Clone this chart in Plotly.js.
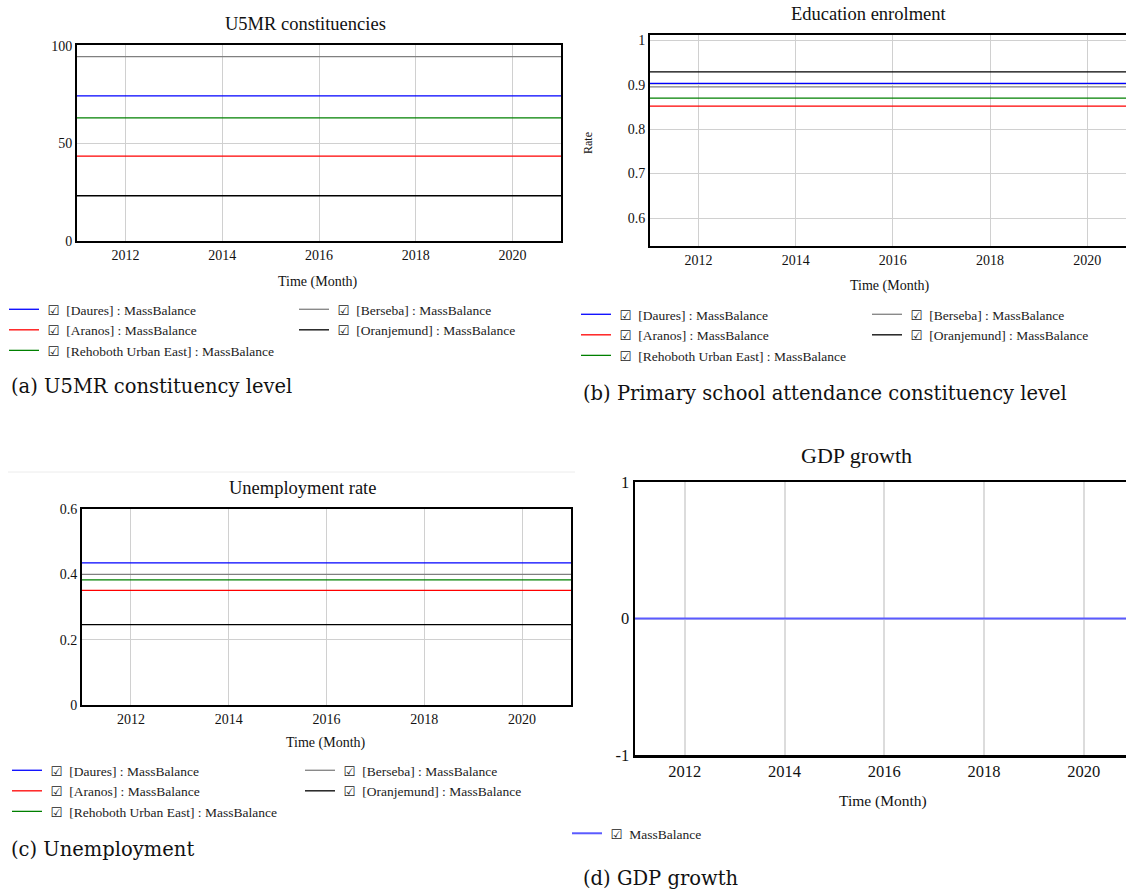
<!DOCTYPE html>
<html><head><meta charset="utf-8">
<script src="https://cdn.plot.ly/plotly-3.0.1.min.js"></script>
<style>html,body{margin:0;padding:0;background:#fff;overflow:hidden}#chart{width:1126px;height:890px}</style>
</head><body><div id="chart"></div>
<script>
const W = 1126, H = 890;
// ---- data ----
const timeYears = [2011, 2021];
const constituencies = ['Daures', 'Aranos', 'Rehoboth Urban East', 'Berseba', 'Oranjemund'];
const seriesColors = ['#0000ff', '#ff0000', '#008000', '#808080', '#000000'];
const u5mrValues = [74.4, 43.5, 63.1, 94.5, 23.2];
const enrolmentValues = [0.903, 0.852, 0.870, 0.895, 0.929];
const unemploymentValues = [0.435, 0.351, 0.383, 0.400, 0.246];
const gdpGrowthValues = [0, 0];
const yearTicks = [2012, 2014, 2016, 2018, 2020];
const u5mrTicks = [0, 50, 100];
const enrolTicks = [0.6, 0.7, 0.8, 0.9, 1];
const unempTicks = [0, 0.2, 0.4, 0.6];
const gdpTicks = [-1, 0, 1];
const gdpTickText = ['-1', '0', '1'];
const panelTitles = ['U5MR constituencies', 'Education enrolment', 'Unemployment rate', 'GDP growth'];
const xTitle = 'Time (Month)';
const captions = ['(a) U5MR constituency level', '(b) Primary school attendance constituency level', '(c) Unemployment', '(d) GDP growth'];

const SERIF = 'Liberation Serif, Times New Roman, serif';
const LEGFONT = 'Liberation Serif, DejaVu Sans, serif';
const CHECK = '\u00a0\u2611\u00a0 ';

const px = v => v / W, py = v => 1 - v / H;

const traces = [];
function addPanel(values, xa, ya, legA, legB) {
  values.forEach((v, i) => {
    traces.push({
      type: 'scatter', mode: 'lines', x: timeYears, y: timeYears.map(() => v),
      xaxis: xa, yaxis: ya, name: CHECK + '[' + constituencies[i] + '] : MassBalance',
      line: {color: seriesColors[i], width: 1.3},
      legend: i < 3 ? legA : legB, hoverinfo: 'skip'
    });
  });
}
addPanel(u5mrValues, 'x', 'y', 'legend', 'legend2');
addPanel(enrolmentValues, 'x2', 'y2', 'legend3', 'legend4');
addPanel(unemploymentValues, 'x3', 'y3', 'legend5', 'legend6');
traces.push({
  type: 'scatter', mode: 'lines', x: timeYears, y: gdpGrowthValues,
  xaxis: 'x4', yaxis: 'y4', name: CHECK + 'MassBalance',
  line: {color: '#5a5aff', width: 2}, legend: 'legend7', hoverinfo: 'skip'
});

function xAx(d0, d1, range, fs, gw, anchor) {
  return {domain: [d0, d1], range: range, tickvals: yearTicks, anchor: anchor,
    showgrid: true, gridcolor: gw > 1 ? '#dcdcdc' : '#d0d0d0', gridwidth: gw, zeroline: false,
    showline: true, linecolor: '#000', linewidth: gw > 1 ? 2.5 : 2, mirror: true, ticks: '',
    tickfont: {family: SERIF, size: fs, color: '#111'}, fixedrange: true};
}
function yAx(top, bot, range, tv, fs, gw, mirror, anchor, tt) {
  const a = {domain: [py(bot), py(top)], range: range, tickvals: tv, anchor: anchor,
    showgrid: true, gridcolor: gw > 1 ? '#dcdcdc' : '#d0d0d0', gridwidth: gw, zeroline: false,
    showline: true, linecolor: '#000', linewidth: gw > 1 ? 2.5 : 2, mirror: mirror, ticks: '',
    tickfont: {family: SERIF, size: fs, color: '#111'}, fixedrange: true};
  if (tt) a.ticktext = tt;
  return a;
}
function leg(x, top) {
  return {x: px(x), y: py(top), xanchor: 'left', yanchor: 'top', orientation: 'v',
    bgcolor: 'rgba(0,0,0,0)', borderwidth: 0, font: {family: LEGFONT, size: 13.5, color: '#222'},
    itemclick: false, itemdoubleclick: false};
}
function ann(text, x, y, size, font, extra) {
  return Object.assign({text: text, x: px(x), y: py(y), xref: 'paper', yref: 'paper',
    showarrow: false, xanchor: 'center', yanchor: 'middle',
    font: {family: font || SERIF, size: size, color: '#111'}}, extra || {});
}

const layout = {
  width: W, height: H, margin: {l: 0, r: 0, t: 0, b: 0},
  paper_bgcolor: '#fff', plot_bgcolor: '#fff', showlegend: true,
  xaxis: xAx(px(77), px(561), [2011, 2021], 14, 1, 'y'),
  yaxis: yAx(45, 241, [0, 100.5], u5mrTicks, 14, 1, true, 'x'),
  xaxis2: xAx(px(650), 1, [2011, 2020.8], 14, 1, 'y2'),
  yaxis2: yAx(35, 246, [0.537, 1.012], enrolTicks, 14, 1, false, 'x2'),
  xaxis3: xAx(px(82), px(571), [2011, 2021], 14, 1, 'y3'),
  yaxis3: yAx(509, 705, [0, 0.6], unempTicks, 14, 1, true, 'x3'),
  xaxis4: xAx(px(635), 1, [2011, 2020.85], 16.5, 2, 'y4'),
  yaxis4: yAx(482, 755, [-1, 1], gdpTicks, 16.5, 2, false, 'x4', gdpTickText),
  legend: leg(4, 294), legend2: leg(294, 294),
  legend3: leg(576, 299), legend4: leg(867, 299),
  legend5: leg(7, 755), legend6: leg(300, 755),
  legend7: leg(567, 818),
  shapes: [{type: 'line', xref: 'paper', yref: 'paper', x0: px(8), x1: px(575), y0: py(472), y1: py(472),
    line: {color: '#ececec', width: 1}}],
  annotations: [
    ann(panelTitles[0], 305, 24, 18.5),
    ann(panelTitles[1], 868, 14, 18.5),
    ann(panelTitles[2], 302, 488, 18.5),
    ann(panelTitles[3], 856, 455, 22),
    ann(xTitle, 318, 282, 14),
    ann(xTitle, 890, 286, 14),
    ann(xTitle, 326, 743, 14),
    ann(xTitle, 883, 801, 15.5),
    ann('Rate', 588, 143, 12, SERIF, {textangle: -90}),
    ann(captions[0], 9, 386, 19.5, 'DejaVu Serif', {xanchor: 'left'}),
    ann(captions[1], 581, 394, 19.5, 'DejaVu Serif', {xanchor: 'left'}),
    ann(captions[2], 9, 849, 19.5, 'DejaVu Serif', {xanchor: 'left'}),
    ann(captions[3], 581, 878, 19.5, 'DejaVu Serif', {xanchor: 'left'})
  ]
};
Plotly.newPlot('chart', traces, layout, {staticPlot: true, displayModeBar: false});
</script></body></html>
